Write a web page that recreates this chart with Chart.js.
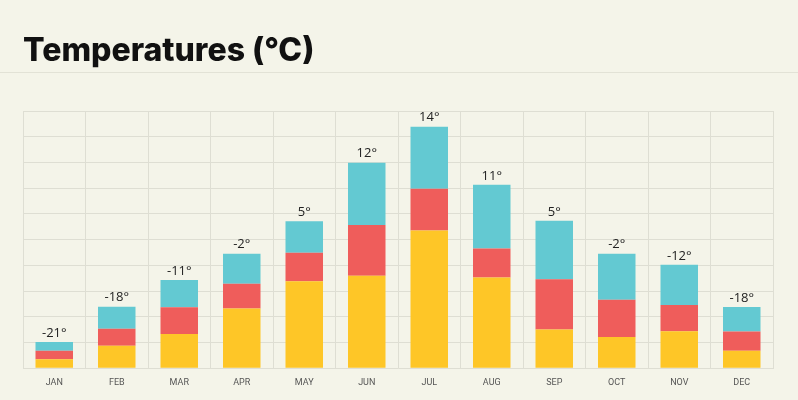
<!DOCTYPE html>
<html>
<head>
<meta charset="utf-8">
<script src="https://cdn.jsdelivr.net/npm/chart.js@4"></script>
<style>
  html, body { margin: 0; padding: 0; background: #f4f4e9; }
  #wrap { width: 798px; height: 400px; position: relative; }
</style>
</head>
<body>
<div id="wrap"><canvas id="tempChart"></canvas></div>
<script>
// ===== DATA =====
const months = ['JAN', 'FEB', 'MAR', 'APR', 'MAY', 'JUN', 'JUL', 'AUG', 'SEP', 'OCT', 'NOV', 'DEC'];
const lowPart = [3.5, 8.7, 13.3, 23.2, 33.8, 35.9, 53.5, 35.3, 15.0, 12.1, 14.4, 6.8];
const midPart = [3.3, 6.6, 10.4, 9.6, 11.1, 19.8, 16.3, 11.2, 19.6, 14.5, 10.2, 7.5];
const highPart = [3.4, 8.6, 10.6, 11.7, 12.2, 24.2, 24.1, 24.8, 22.7, 17.9, 15.6, 9.5];
const tempLabels = ['-21°', '-18°', '-11°', '-2°', '5°', '12°', '14°', '11°', '5°', '-2°', '-12°', '-18°'];

const COLORS = {
  yellow: '#fec627',
  red: '#ef5d5b',
  blue: '#63c9d2',
  grid: '#deded3',
  text: '#555555',
};

// separator line under the title + temperature labels over each stack
const decorPlugin = {
  id: 'decor',
  beforeDraw(chart) {
    const { ctx, width } = chart;
    ctx.save();
    ctx.strokeStyle = '#e2e2d6';
    ctx.lineWidth = 1;
    ctx.beginPath();
    ctx.moveTo(0, 72.5);
    ctx.lineTo(width, 72.5);
    ctx.stroke();
    ctx.restore();
  },
  afterDatasetsDraw(chart) {
    const { ctx } = chart;
    const top = chart.getDatasetMeta(chart.data.datasets.length - 1);
    ctx.save();
    ctx.font = '13px "Open Sans"';
    ctx.fillStyle = '#222';
    ctx.textAlign = 'center';
    ctx.textBaseline = 'middle';
    top.data.forEach((bar, i) => {
      ctx.fillText(tempLabels[i], bar.x, bar.y - 9);
    });
    ctx.restore();
  },
};

new Chart(document.getElementById('tempChart'), {
  type: 'bar',
  data: {
    labels: months,
    datasets: [
      { data: lowPart, backgroundColor: COLORS.yellow },
      { data: midPart, backgroundColor: COLORS.red },
      { data: highPart, backgroundColor: COLORS.blue },
    ],
  },
  options: {
    responsive: true,
    maintainAspectRatio: false,
    animation: false,
    categoryPercentage: 0.75,
    barPercentage: 0.8,
    layout: { padding: { left: 23, right: 25, top: 0, bottom: 3 } },
    plugins: {
      legend: { display: false },
      tooltip: { enabled: false },
      title: {
        display: true,
        text: 'Temperatures (°C)',
        align: 'start',
        color: '#111',
        font: { family: 'Inter', size: 32, weight: '800' },
        padding: { top: 32, bottom: 40.6 },
      },
    },
    scales: {
      x: {
        stacked: true,
        grid: { color: COLORS.grid, drawTicks: false },
        border: { color: COLORS.grid },
        ticks: { color: COLORS.text, padding: 9, font: { family: 'Roboto', size: 9 } },
      },
      y: {
        stacked: true,
        min: 0,
        max: 100,
        ticks: { display: false, stepSize: 10 },
        grid: { color: COLORS.grid, drawTicks: false },
        border: { color: COLORS.grid },
      },
    },
  },
  plugins: [decorPlugin],
});
</script>
</body>
</html>
